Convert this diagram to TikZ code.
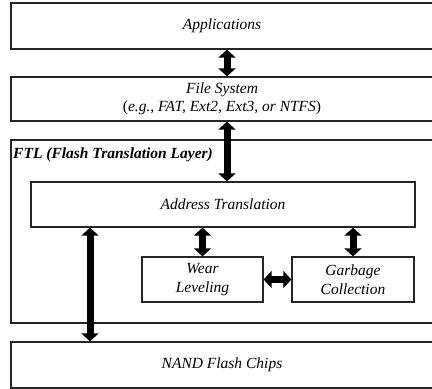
\documentclass[tikz,border=0pt]{standalone}
\usepackage{fontspec}
\setmainfont{Liberation Serif}
\usetikzlibrary{arrows.meta}
\begin{document}
\begin{tikzpicture}[x=1pt,y=-1pt,
  block/.style={draw=black!85, line width=1.3pt, fill=white, inner sep=0pt,
    align=center, font=\fontsize{15.5}{18.5}\selectfont\itshape},
  fat/.style={line width=7pt, black,
    {Triangle[width=17pt,length=8pt]}-{Triangle[width=17pt,length=8pt]}}]
\useasboundingbox (0,0) rectangle (432,389);

% FTL container
\node[draw=black!85, line width=1.3pt, minimum width=422pt, minimum height=183pt,
      inner sep=0pt] (ftl) at (222,231.5) {};
\node[anchor=west, inner sep=0pt, font=\fontsize{15.5}{18.5}\selectfont\bfseries\itshape]
  (ftllabel) at (13,155) {FTL (Flash Translation Layer)};

% layers
\node[block, minimum width=422pt, minimum height=46pt] (app) at (222,26) {Applications};
\node[block, minimum width=422pt, minimum height=44pt] (fs) at (222,99)
  {File System\\\upshape(\itshape e.g., FAT, Ext2, Ext3, or NTFS\upshape)};
\node[block, minimum width=384pt, minimum height=45pt] (at) at (223,204.5) {Address Translation};
\node[block, minimum width=121pt, minimum height=45pt] (wl) at (202.5,279.5) {Wear\\Leveling};
\node[block, minimum width=122pt, minimum height=45pt] (gc) at (353,279.5) {Garbage\\Collection};
\node[block, minimum width=422pt, minimum height=46pt] (nand) at (222,365) {NAND Flash Chips};

% connectors
\coordinate (mid) at (227,0);
\coordinate (side) at (90,0);
\draw[fat] (app.south -| mid) -- (fs.north -| mid);
\draw[fat] (fs.south -| mid) -- (at.north -| mid);
\draw[fat] (at.south -| side) -- (nand.north -| side);
\draw[fat] (at.south -| wl.north) -- (wl.north);
\draw[fat] (at.south -| gc.north) -- (gc.north);
\draw[fat] (wl.east) -- (gc.west);
\end{tikzpicture}
\end{document}
